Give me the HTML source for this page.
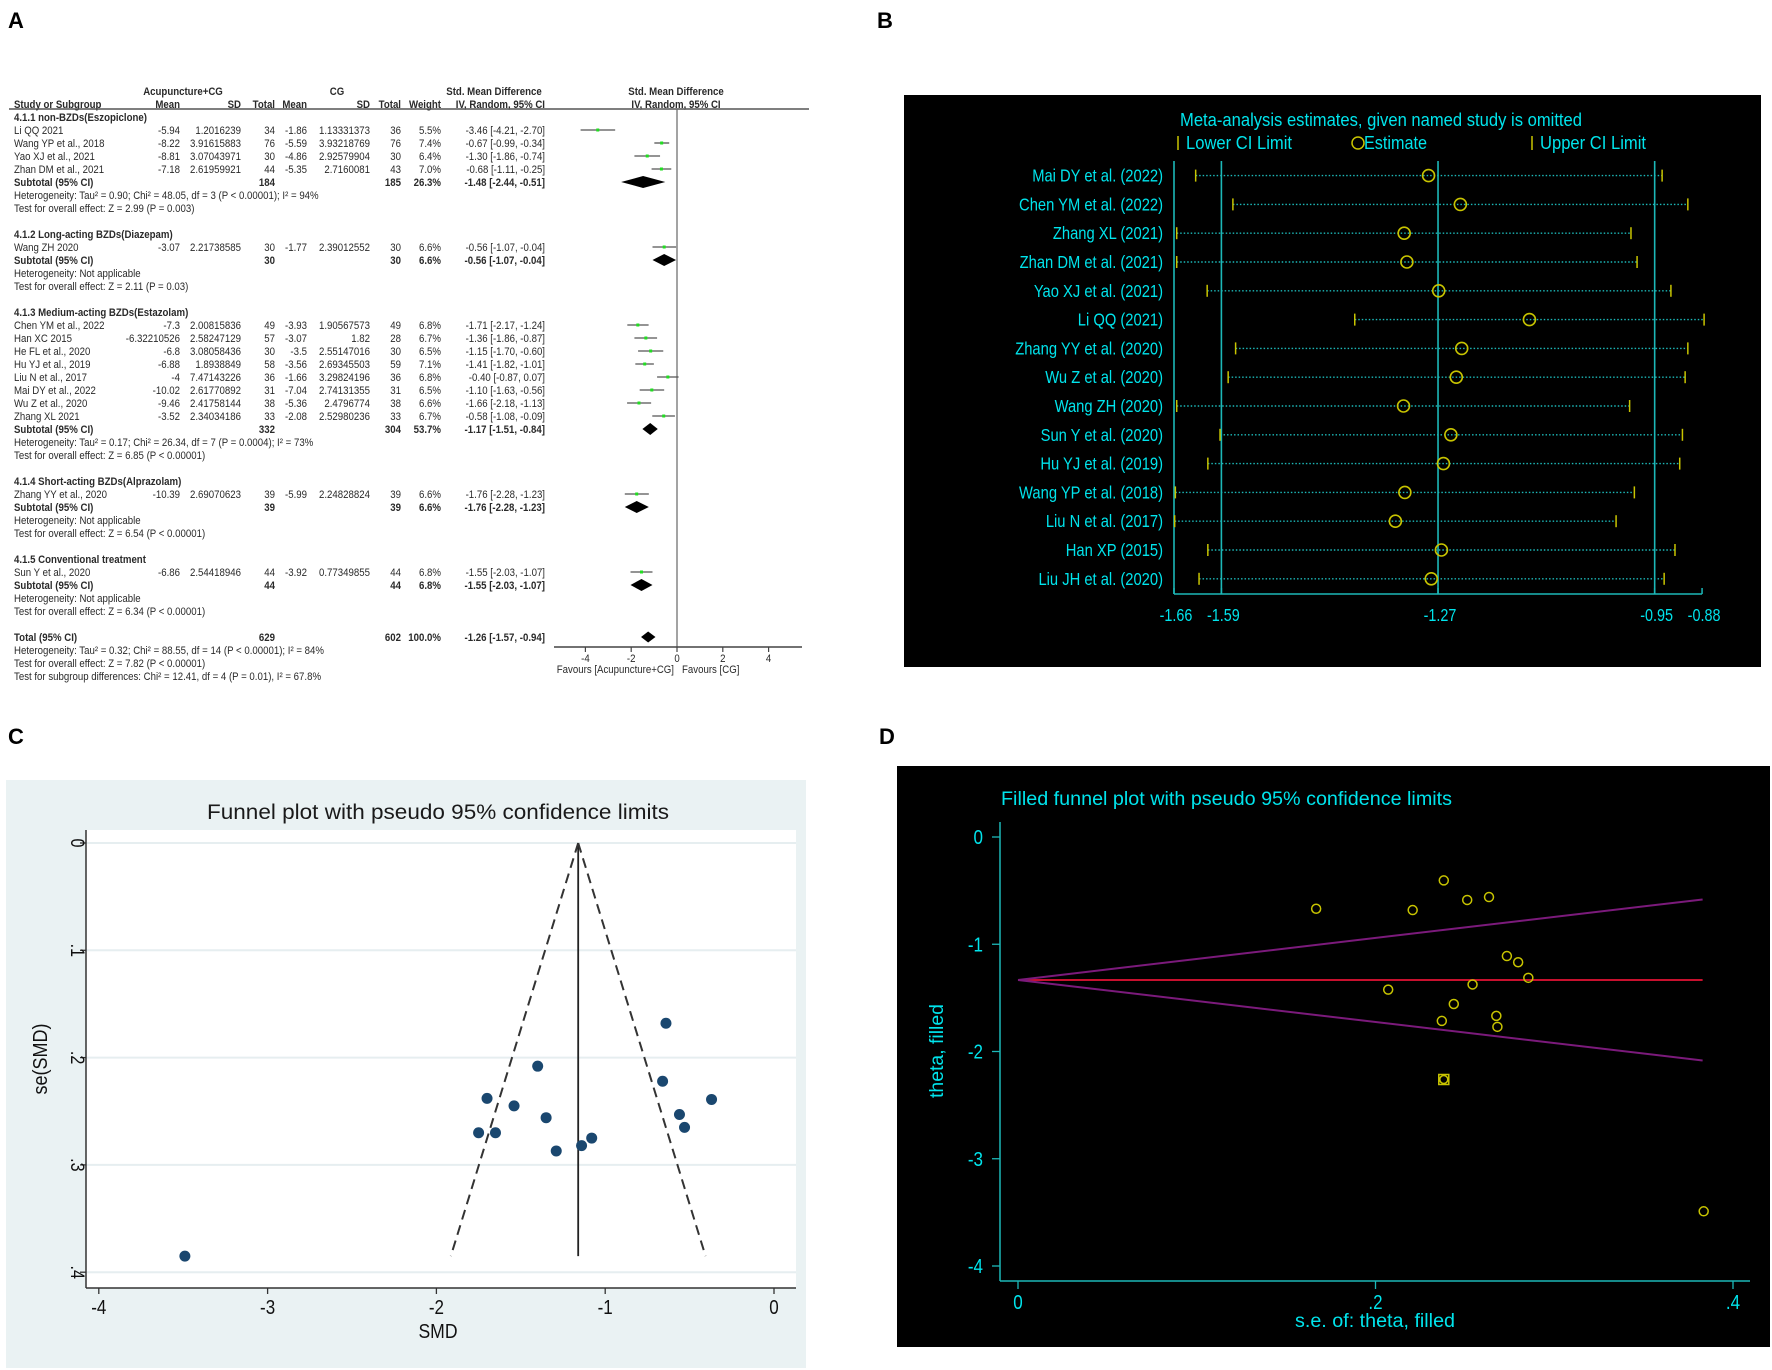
<!DOCTYPE html>
<html><head><meta charset="utf-8"><style>
html,body{margin:0;padding:0;background:#fff;}
svg{display:block;}
</style></head><body>
<svg id="fig" width="1772" height="1370" viewBox="0 0 1772 1370" xmlns="http://www.w3.org/2000/svg"></svg>
<script>
// ---------- Panel A data (forest plot) ----------
const studyNames=["Li QQ 2021","Wang YP et al., 2018","Yao XJ et al., 2021","Zhan DM et al., 2021","Wang ZH 2020","Chen YM et al., 2022","Han XC 2015","He FL et al., 2020","Hu YJ et al., 2019","Liu N et al., 2017","Mai DY et al., 2022","Wu Z et al., 2020","Zhang XL 2021","Zhang YY et al., 2020","Sun Y et al., 2020"];
const studyGroup=[0,0,0,0,1,2,2,2,2,2,2,2,2,3,4];
const mean1=["-5.94","-8.22","-8.81","-7.18","-3.07","-7.3","-6.32210526","-6.8","-6.88","-4","-10.02","-9.46","-3.52","-10.39","-6.86"];
const sd1=["1.2016239","3.91615883","3.07043971","2.61959921","2.21738585","2.00815836","2.58247129","3.08058436","1.8938849","7.47143226","2.61770892","2.41758144","2.34034186","2.69070623","2.54418946"];
const n1=[34,76,30,44,30,49,57,30,58,36,31,38,33,39,44];
const mean2=["-1.86","-5.59","-4.86","-5.35","-1.77","-3.93","-3.07","-3.5","-3.56","-1.66","-7.04","-5.36","-2.08","-5.99","-3.92"];
const sd2=["1.13331373","3.93218769","2.92579904","2.7160081","2.39012552","1.90567573","1.82","2.55147016","2.69345503","3.29824196","2.74131355","2.4796774","2.52980236","2.24828824","0.77349855"];
const n2=[36,76,30,43,30,49,28,30,59,36,31,38,33,39,44];
const weights=["5.5%","7.4%","6.4%","7.0%","6.6%","6.8%","6.7%","6.5%","7.1%","6.8%","6.5%","6.6%","6.7%","6.6%","6.8%"];
const smd=[-3.46,-0.67,-1.30,-0.68,-0.56,-1.71,-1.36,-1.15,-1.41,-0.40,-1.10,-1.66,-0.58,-1.76,-1.55];
const smdLo=[-4.21,-0.99,-1.86,-1.11,-1.07,-2.17,-1.86,-1.70,-1.82,-0.87,-1.63,-2.18,-1.08,-2.28,-2.03];
const smdHi=[-2.70,-0.34,-0.74,-0.25,-0.04,-1.24,-0.87,-0.60,-1.01,0.07,-0.56,-1.13,-0.09,-1.23,-1.07];
const groupTitles=["4.1.1 non-BZDs(Eszopiclone)","4.1.2 Long-acting BZDs(Diazepam)","4.1.3 Medium-acting BZDs(Estazolam)","4.1.4 Short-acting BZDs(Alprazolam)","4.1.5 Conventional treatment"];
const subN1=[184,30,332,39,44];
const subN2=[185,30,304,39,44];
const subW=["26.3%","6.6%","53.7%","6.6%","6.8%"];
const subSmd=[-1.48,-0.56,-1.17,-1.76,-1.55];
const subLo=[-2.44,-1.07,-1.51,-2.28,-2.03];
const subHi=[-0.51,-0.04,-0.84,-1.23,-1.07];
const subHet=["Heterogeneity: Tau\u00b2 = 0.90; Chi\u00b2 = 48.05, df = 3 (P < 0.00001); I\u00b2 = 94%","Heterogeneity: Not applicable","Heterogeneity: Tau\u00b2 = 0.17; Chi\u00b2 = 26.34, df = 7 (P = 0.0004); I\u00b2 = 73%","Heterogeneity: Not applicable","Heterogeneity: Not applicable"];
const subTest=["Test for overall effect: Z = 2.99 (P = 0.003)","Test for overall effect: Z = 2.11 (P = 0.03)","Test for overall effect: Z = 6.85 (P < 0.00001)","Test for overall effect: Z = 6.54 (P < 0.00001)","Test for overall effect: Z = 6.34 (P < 0.00001)"];
const totalN1=629, totalN2=602, totalSmd=-1.26, totalLo=-1.57, totalHi=-0.94;
const forestTicks=[-4,-2,0,2,4];

// ---------- Panel B data (sensitivity) ----------
const sensNames=["Mai DY et al. (2022)","Chen YM et al. (2022)","Zhang XL (2021)","Zhan DM et al. (2021)","Yao XJ et al. (2021)","Li QQ (2021)","Zhang YY et al. (2020)","Wu Z et al. (2020)","Wang ZH (2020)","Sun Y et al. (2020)","Hu YJ et al. (2019)","Wang YP et al. (2018)","Liu N et al. (2017)","Han XP (2015)","Liu JH et al. (2020)"];
const sensLower=[-1.628,-1.573,-1.656,-1.656,-1.611,-1.393,-1.569,-1.580,-1.656,-1.592,-1.610,-1.658,-1.659,-1.610,-1.623];
const sensEst=[-1.284,-1.237,-1.320,-1.316,-1.269,-1.135,-1.235,-1.243,-1.321,-1.251,-1.262,-1.319,-1.333,-1.265,-1.280];
const sensUpper=[-0.939,-0.901,-0.985,-0.976,-0.926,-0.877,-0.901,-0.905,-0.987,-0.909,-0.913,-0.980,-1.007,-0.920,-0.936];
const sensTicks=[-1.66,-1.59,-1.27,-0.95,-0.88];
const sensRefLines=[-1.66,-1.59,-1.27,-0.95];

// ---------- Panel C data (funnel) ----------
const funSmd=[-3.49,-0.64,-1.40,-0.66,-1.70,-0.37,-1.54,-1.35,-0.56,-0.53,-1.75,-1.65,-1.08,-1.14,-1.29];
const funSe=[0.385,0.168,0.208,0.222,0.238,0.239,0.245,0.256,0.253,0.265,0.270,0.270,0.275,0.282,0.287];
const funPooled=-1.16, funSeMax=0.385;
const funXTicks=[-4,-3,-2,-1,0];
const funYTicks=[0,0.1,0.2,0.3,0.4];
const funYLabels=["0",".1",".2",".3",".4"];

// ---------- Panel D data (filled funnel) ----------
const fillSe=[0.1668,0.2208,0.2382,0.2513,0.2635,0.2735,0.2798,0.2855,0.2071,0.2543,0.2438,0.2371,0.2676,0.2682,0.3836];
const fillTheta=[-0.669,-0.681,-0.405,-0.587,-0.560,-1.110,-1.168,-1.313,-1.423,-1.375,-1.557,-1.715,-1.668,-1.770,-3.49];
const filledSe=[0.2382];
const filledTheta=[-2.261];
const fillPooled=-1.333, fillSeMax=0.383;
const fillXTicks=[0,0.2,0.4];
const fillXLabels=["0",".2",".4"];
const fillYTicks=[0,-1,-2,-3,-4];

const NS="http://www.w3.org/2000/svg";
const svg=document.getElementById('fig');
function mk(p,tag,a){const e=document.createElementNS(NS,tag);for(const k in a)e.setAttribute(k,a[k]);p.appendChild(e);return e;}
function tx(p,x,y,s,o){o=o||{};
  let tr=`translate(${x},${y})`+(o.rot?` rotate(${o.rot})`:'')+` scale(${o.sx||1},1)`;
  const e=mk(p,'text',{transform:tr,'text-anchor':o.a||'start','font-size':o.fs||10,'font-weight':o.b?'bold':'normal',fill:o.f||'#222','font-family':'"Liberation Sans",Arial,sans-serif'});
  if(o.tl){e.setAttribute('textLength',o.tl);e.setAttribute('lengthAdjust','spacingAndGlyphs');}
  e.textContent=s;return e;}

// panel letters
const letters=[["A",8,28],["B",877,28],["C",8,744],["D",879,744]];
letters.forEach(l=>{const e=tx(svg,l[1],l[2],l[0],{fs:22,b:true,f:'#000'});

});

// ================= Panel A =================
const gA=mk(svg,'g',{});


const FS=11.5, SX=0.84, TC='#2a2a2a';
const lineY=i=>91+13*i;
const zx=677, unit=22.9;
const fx=v=>zx+v*unit;
function at(x,i,s,o){o=Object.assign({fs:FS,sx:SX,f:TC},o||{});return tx(gA,x,lineY(i)+4,s,o);}
const colR=[180,241,275,307,370,401,441,545];
function fmtCI(a,b,c){const f=v=>v.toFixed(2);return `${f(a)} [${f(b)}, ${f(c)}]`;}

let h;
h=at(183,0,'Acupuncture+CG',{a:'middle',b:true});
h=at(337,0,'CG',{a:'middle',b:true});
h=at(494,0,'Std. Mean Difference',{a:'middle',b:true});
h=at(676,0,'Std. Mean Difference',{a:'middle',b:true});
h=at(14,1,'Study or Subgroup',{b:true});
const hdr2=['Mean','SD','Total','Mean','SD','Total','Weight','IV, Random, 95% CI'];
hdr2.forEach((s,k)=>{const e=at(colR[k],1,s,{a:'end',b:true});

});
h=at(676,1,'IV, Random, 95% CI',{a:'middle',b:true});
h=mk(gA,'line',{x1:9,y1:109,x2:809,y2:109,stroke:'#555','stroke-width':1.5});

h=mk(gA,'line',{x1:zx,y1:109,x2:zx,y2:647,stroke:'#666','stroke-width':1.2});


function diamond(i,c,lo,hi,hh){const y=lineY(i);
  return mk(gA,'polygon',{points:`${fx(lo)},${y} ${fx(c)},${y-hh} ${fx(hi)},${y} ${fx(c)},${y+hh}`,fill:'#000'});}

let li=2;
for(let g=0;g<groupTitles.length;g++){
  let e=at(14,li,groupTitles[g],{b:true});
  
  
  li++;
  for(let s=0;s<studyNames.length;s++){ if(studyGroup[s]!==g) continue;
    const vals=[mean1[s],sd1[s],String(n1[s]),mean2[s],sd2[s],String(n2[s]),weights[s],fmtCI(smd[s],smdLo[s],smdHi[s])];
    e=at(14,li,studyNames[s]);
    
    
    vals.forEach((v,k)=>{const c=at(colR[k],li,v,{a:'end'});
      
      });
    const y=lineY(li);
    const ci=mk(gA,'line',{x1:fx(smdLo[s]),y1:y,x2:fx(smdHi[s]),y2:y,stroke:'#555','stroke-width':1.3});
    
    
    const sq=mk(gA,'rect',{x:fx(smd[s])-1.5,y:y-1.5,width:3,height:3,fill:'#22dd22'});
    
    
    li++;
  }
  e=at(14,li,'Subtotal (95% CI)',{b:true});
  
  
  [[2,String(subN1[g])],[5,String(subN2[g])],[6,subW[g]],[7,fmtCI(subSmd[g],subLo[g],subHi[g])]].forEach(p=>{
    const c=at(colR[p[0]],li,p[1],{a:'end',b:true});
    
    });
  const d=diamond(li,subSmd[g],subLo[g],subHi[g],6);
  
  
  li++;
  e=at(14,li,subHet[g]);
  
  
  li++;
  e=at(14,li,subTest[g]);
  
  
  li+=2;
}
// total
h=at(14,li,'Total (95% CI)',{b:true});
[[2,String(totalN1)],[5,String(totalN2)],[6,'100.0%'],[7,fmtCI(totalSmd,totalLo,totalHi)]].forEach(p=>{
  const c=at(colR[p[0]],li,p[1],{a:'end',b:true});
  
  });
h=diamond(li,totalSmd,totalLo,totalHi,5.5);
h=at(14,li+1,'Heterogeneity: Tau\u00b2 = 0.32; Chi\u00b2 = 88.55, df = 14 (P < 0.00001); I\u00b2 = 84%');
h=at(14,li+2,'Test for overall effect: Z = 7.82 (P < 0.00001)');
h=at(14,li+3,'Test for subgroup differences: Chi\u00b2 = 12.41, df = 4 (P = 0.01), I\u00b2 = 67.8%');
// axis
h=mk(gA,'line',{x1:554,y1:647,x2:802,y2:647,stroke:'#444','stroke-width':1.5});
forestTicks.forEach(t=>{const l=mk(gA,'line',{x1:fx(t),y1:647,x2:fx(t),y2:652,stroke:'#444','stroke-width':1.2});


const e=tx(gA,fx(t),662,String(t),{a:'middle',fs:FS,sx:SX,f:TC});

});
h=tx(gA,674,673,'Favours [Acupuncture+CG]',{a:'end',fs:FS,sx:SX,f:TC});
h=tx(gA,682,673,'Favours [CG]',{fs:FS,sx:SX,f:TC});

// ================= Panel B =================
const gB=mk(svg,'g',{});


const CY='#00e4ec', YL='#c8c400', TL='#1cb8b8';
h=mk(gB,'rect',{x:904,y:95,width:857,height:572,fill:'#000'});
const bx=v=>1174+(v+1.66)*677;
const by=i=>175.6+i*28.8;
h=tx(gB,1180,126,'Meta-analysis estimates, given named study is omitted',{fs:18,f:CY,tl:402});
h=mk(gB,'line',{x1:1178,y1:136,x2:1178,y2:150,stroke:YL,'stroke-width':1.5});
h=tx(gB,1186,149,'Lower CI Limit',{fs:18,f:CY,tl:106});
h=mk(gB,'circle',{cx:1358,cy:143,r:6,fill:'none',stroke:YL,'stroke-width':1.5});
h=tx(gB,1364,149,'Estimate',{fs:18,f:CY,tl:63});
h=mk(gB,'line',{x1:1532,y1:136,x2:1532,y2:150,stroke:YL,'stroke-width':1.5});
h=tx(gB,1540,149,'Upper CI Limit',{fs:18,f:CY,tl:106});
sensRefLines.forEach(v=>{const l=mk(gB,'line',{x1:bx(v),y1:161,x2:bx(v),y2:594,stroke:TL,'stroke-width':1.6});

});
h=mk(gB,'line',{x1:1174,y1:594,x2:bx(-0.88),y2:594,stroke:TL,'stroke-width':1.6});
sensTicks.forEach(v=>{const l=mk(gB,'line',{x1:bx(v),y1:594,x2:bx(v),y2:588,stroke:TL,'stroke-width':1.5});


const e=tx(gB,bx(v)+2,621,v.toFixed(2),{a:'middle',fs:18,sx:0.8,f:CY});

});
sensNames.forEach((n,i)=>{const y=by(i);
  const e=tx(gB,1163,y+6,n,{a:'end',fs:18,sx:0.82,f:CY});
  
  
  const l=mk(gB,'line',{x1:bx(sensLower[i]),y1:y,x2:bx(sensUpper[i]),y2:y,stroke:TL,'stroke-width':1.4,'stroke-dasharray':'1.5,2'});
  
  
  const a=mk(gB,'line',{x1:bx(sensLower[i]),y1:y-6,x2:bx(sensLower[i]),y2:y+6,stroke:YL,'stroke-width':1.5});
  
  
  const b=mk(gB,'line',{x1:bx(sensUpper[i]),y1:y-6,x2:bx(sensUpper[i]),y2:y+6,stroke:YL,'stroke-width':1.5});
  
  
  const c=mk(gB,'circle',{cx:bx(sensEst[i]),cy:y,r:6,fill:'none',stroke:YL,'stroke-width':1.6});
  
  });

// ================= Panel C =================
const gC=mk(svg,'g',{});


h=mk(gC,'rect',{x:6,y:780,width:800,height:588,fill:'#eaf2f3'});
h=mk(gC,'rect',{x:86,y:830,width:710,height:458,fill:'#fff'});
const cx=v=>774+v*168.8, cy=v=>843+v*1073;
funYTicks.forEach((t,k)=>{const g=mk(gC,'line',{x1:86,y1:cy(t),x2:796,y2:cy(t),stroke:'#e6eef0','stroke-width':2});


const l=mk(gC,'line',{x1:80,y1:cy(t),x2:86,y2:cy(t),stroke:'#333','stroke-width':1.3});


const e=tx(gC,71,cy(t),funYLabels[k],{a:'middle',fs:19,sx:0.85,f:'#111',rot:90});

});
h=mk(gC,'line',{x1:86,y1:830,x2:86,y2:1288,stroke:'#333','stroke-width':1.5});
h=mk(gC,'line',{x1:86,y1:1288,x2:796,y2:1288,stroke:'#333','stroke-width':1.5});
funXTicks.forEach(t=>{const l=mk(gC,'line',{x1:cx(t),y1:1288,x2:cx(t),y2:1294,stroke:'#333','stroke-width':1.3});


const e=tx(gC,cx(t),1314,String(t),{a:'middle',fs:20,sx:0.85,f:'#111'});

});
h=tx(gC,207,819,'Funnel plot with pseudo 95% confidence limits',{fs:21,f:'#1a1a1a',tl:462});
h=tx(gC,438,1338,'SMD',{a:'middle',fs:20,sx:0.88,f:'#111'});
h=tx(gC,47,1059,'se(SMD)',{a:'middle',fs:20,sx:0.9,f:'#111',rot:-90});
h=mk(gC,'line',{x1:cx(funPooled),y1:cy(0),x2:cx(funPooled),y2:cy(funSeMax),stroke:'#222','stroke-width':1.8});
h=mk(gC,'line',{x1:cx(funPooled),y1:cy(0),x2:cx(funPooled-1.96*funSeMax),y2:cy(funSeMax),stroke:'#333','stroke-width':2,'stroke-dasharray':'10,6'});
h=mk(gC,'line',{x1:cx(funPooled),y1:cy(0),x2:cx(funPooled+1.96*funSeMax),y2:cy(funSeMax),stroke:'#333','stroke-width':2,'stroke-dasharray':'10,6'});
funSmd.forEach((v,i)=>{const c=mk(gC,'ellipse',{cx:cx(v),cy:cy(funSe[i]),rx:5.5,ry:5.5,fill:'#1a476f'});

});

// ================= Panel D =================
const gD=mk(svg,'g',{});


h=mk(gD,'rect',{x:897,y:766,width:873,height:581,fill:'#000'});
const dx=v=>1018+v*1787.5, dy=v=>837-v*107.25;
h=mk(gD,'line',{x1:1000,y1:822,x2:1000,y2:1281,stroke:TL,'stroke-width':1.5});
h=mk(gD,'line',{x1:1000,y1:1281,x2:1750,y2:1281,stroke:TL,'stroke-width':1.5});
fillYTicks.forEach(t=>{const l=mk(gD,'line',{x1:992,y1:dy(t),x2:1000,y2:dy(t),stroke:TL,'stroke-width':1.3});


const e=tx(gD,983,dy(t)+7,String(t),{a:'end',fs:20,sx:0.85,f:CY});

});
fillXTicks.forEach((t,k)=>{const l=mk(gD,'line',{x1:dx(t),y1:1281,x2:dx(t),y2:1289,stroke:TL,'stroke-width':1.3});


const e=tx(gD,dx(t),1309,fillXLabels[k],{a:'middle',fs:20,sx:0.85,f:CY});

});
h=tx(gD,1001,805,'Filled funnel plot with pseudo 95% confidence limits',{fs:19,f:CY,tl:451});
h=tx(gD,1295,1327,'s.e. of: theta, filled',{fs:19,f:CY,tl:160});
h=tx(gD,943,1098,'theta, filled',{fs:19,f:CY,tl:94,rot:-90});
h=mk(gD,'line',{x1:dx(0),y1:dy(fillPooled),x2:dx(fillSeMax),y2:dy(fillPooled),stroke:'#c8102e','stroke-width':2});
h=mk(gD,'line',{x1:dx(0),y1:dy(fillPooled),x2:dx(fillSeMax),y2:dy(fillPooled+1.96*fillSeMax),stroke:'#7b1a7b','stroke-width':2});
h=mk(gD,'line',{x1:dx(0),y1:dy(fillPooled),x2:dx(fillSeMax),y2:dy(fillPooled-1.96*fillSeMax),stroke:'#7b1a7b','stroke-width':2});
fillSe.forEach((s,i)=>{const c=mk(gD,'circle',{cx:dx(s),cy:dy(fillTheta[i]),r:4.5,fill:'none',stroke:YL,'stroke-width':1.5});

});
filledSe.forEach((s,i)=>{const r=mk(gD,'rect',{x:dx(s)-5,y:dy(filledTheta[i])-5,width:10,height:10,fill:'none',stroke:YL,'stroke-width':1.5});


const c=mk(gD,'circle',{cx:dx(s),cy:dy(filledTheta[i]),r:4,fill:'none',stroke:YL,'stroke-width':1.5});

});
</script>
</body></html>
